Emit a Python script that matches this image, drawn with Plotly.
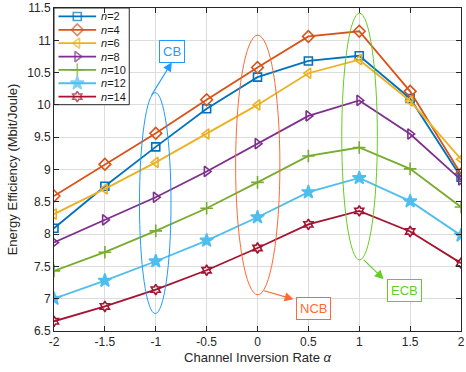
import plotly.graph_objects as go

alpha = [-2, -1.5, -1, -0.5, 0, 0.5, 1, 1.5, 2]
ee_n2 = [8.09, 8.74, 9.35, 9.94, 10.43, 10.68, 10.76, 10.10, 8.88]
ee_n4 = [8.59, 9.08, 9.56, 10.08, 10.58, 11.06, 11.14, 10.21, 8.93]
ee_n6 = [8.31, 8.70, 9.11, 9.55, 10.00, 10.49, 10.70, 10.06, 9.16]
ee_n8 = [7.87, 8.22, 8.57, 8.97, 9.40, 9.83, 10.07, 9.55, 8.84]
ee_n10 = [7.43, 7.72, 8.05, 8.40, 8.80, 9.21, 9.34, 9.01, 8.42]
ee_n12 = [7.00, 7.28, 7.58, 7.90, 8.26, 8.65, 8.87, 8.51, 7.98]
ee_n14 = [6.65, 6.88, 7.14, 7.44, 7.785, 8.15, 8.36, 8.04, 7.55]

series_names = ["2", "4", "6", "8", "10", "12", "14"]
series_values = [ee_n2, ee_n4, ee_n6, ee_n8, ee_n10, ee_n12, ee_n14]
colors = ["#0072BD", "#D95319", "#EDB120", "#7E2F8E", "#77AC30", "#4DBEEE", "#A2142F"]
symbols = ["square-open", "diamond-open", "triangle-left-open", "triangle-right-open",
           "cross-thin-open", "star", "hexagram-open"]
sizes = [8, 9, 9, 9, 9, 10, 8]

x_ticks = [-2, -1.5, -1, -0.5, 0, 0.5, 1, 1.5, 2]
x_tick_labels = ["-2", "-1.5", "-1", "-0.5", "0", "0.5", "1", "1.5", "2"]
y_ticks = [6.5, 7, 7.5, 8, 8.5, 9, 9.5, 10, 10.5, 11, 11.5]
y_tick_labels = ["6.5", "7", "7.5", "8", "8.5", "9", "9.5", "10", "10.5", "11", "11.5"]

# annotation groups: label, color, ellipse (x0,x1,y0,y1), box centre, arrow tail, arrow head
group_labels = ["CB", "NCB", "ECB"]
group_colors = ["#1E9BFF", "#FF6A33", "#66CC22"]
ellipses = [(-1.16, -0.85, 6.77, 10.19), (-0.215, 0.22, 7.06, 11.08), (0.828, 1.178, 7.60, 11.42)]
box_centres = [(-0.836, 10.83), (0.555, 6.855), (1.44, 7.12)]
arrow_tails = [(-1.05, 10.13), (0.05, 7.13), (1.03, 7.625)]
arrow_heads = [(-0.842, 10.66), (0.355, 6.99), (1.24, 7.30)]

fig = go.Figure()
for name, vals, c, s, sz in zip(series_names, series_values, colors, symbols, sizes):
    fig.add_trace(go.Scatter(
        x=alpha, y=vals, mode="lines+markers", name="n=" + name, showlegend=False,
        line=dict(color=c, width=1.8),
        marker=dict(symbol=s, size=sz, color=c, line=dict(color=c, width=1.6)),
    ))

# ---- hand-made compact legend on an overlay pixel-scaled axis pair ----
PW, PH = 411, 324          # plot area in px
LEG_W, LEG_H = 76, 97      # legend box
ROW0, ROW_STEP = 8.5, 13.4
fig.add_trace(go.Scatter(
    x=[0, LEG_W, LEG_W, 0, 0], y=[0, 0, LEG_H, LEG_H, 0], xaxis="x2", yaxis="y2",
    mode="lines", fill="toself", fillcolor="white", line=dict(color="#262626", width=1),
    hoverinfo="skip", showlegend=False))
for i, (name, c, s, sz) in enumerate(zip(series_names, colors, symbols, sizes)):
    yy = ROW0 + i * ROW_STEP
    fig.add_trace(go.Scatter(
        x=[4.5, 23.5, 42.5], y=[yy, yy, yy], xaxis="x2", yaxis="y2",
        mode="lines+markers", line=dict(color=c, width=1.8),
        marker=dict(symbol=s, size=[0, sz, 0], color=c, line=dict(color=c, width=1.6)),
        hoverinfo="skip", showlegend=False))
    fig.add_annotation(x=45.5, y=yy, xref="x2", yref="y2", xanchor="left", yanchor="middle",
                       text="<i>n</i>=" + name, showarrow=False,
                       font=dict(size=11, color="#1a1a1a", family="Liberation Sans"))

for lab, col, el, bc, at, ah in zip(group_labels, group_colors, ellipses, box_centres, arrow_tails, arrow_heads):
    fig.add_shape(type="circle", xref="x", yref="y", x0=el[0], x1=el[1], y0=el[2], y1=el[3],
                  line=dict(color=col, width=1))
    fig.add_annotation(x=ah[0], y=ah[1], ax=at[0], ay=at[1], xref="x", yref="y",
                       axref="x", ayref="y", text="", showarrow=True, arrowhead=2,
                       arrowsize=1.5, arrowwidth=1.2, arrowcolor=col)
    fig.add_annotation(x=bc[0], y=bc[1], xref="x", yref="y", text=lab, showarrow=False,
                       font=dict(color=col, size=13, family="Liberation Sans"),
                       bordercolor=col, borderwidth=1, borderpad=3, bgcolor="white")

fig.update_layout(
    width=466, height=372,
    margin=dict(l=54, r=1, t=7, b=41),
    plot_bgcolor="white", paper_bgcolor="white",
    font=dict(family="Liberation Sans", size=12, color="#262626"),
    showlegend=False,
    xaxis2=dict(overlaying="x", range=[0, PW], visible=False, fixedrange=True),
    yaxis2=dict(overlaying="y", range=[PH, 0], visible=False, fixedrange=True),
)
fig.update_xaxes(selector=dict(overlaying=None))
fig.update_layout(xaxis=dict(
    range=[-2, 2], tickvals=x_ticks, ticktext=x_tick_labels, ticklabeloverflow="allow",
    showgrid=True, gridcolor="#DCDCDC", gridwidth=1,
    showline=True, linecolor="#262626", linewidth=1, mirror="ticks",
    ticks="inside", ticklen=5, tickcolor="#262626", zeroline=False,
    title=dict(text="Channel Inversion Rate <i>α</i>", standoff=4, font=dict(size=13))))
fig.update_layout(yaxis=dict(
    range=[6.5, 11.5], tickvals=y_ticks, ticktext=y_tick_labels,
    showgrid=True, gridcolor="#DCDCDC", gridwidth=1,
    showline=True, linecolor="#262626", linewidth=1, mirror="ticks",
    ticks="inside", ticklen=5, tickcolor="#262626", zeroline=False,
    title=dict(text="Energy Efficiency (Mbit/Joule)", standoff=6, font=dict(size=13))))

fig.write_html("out.html")
